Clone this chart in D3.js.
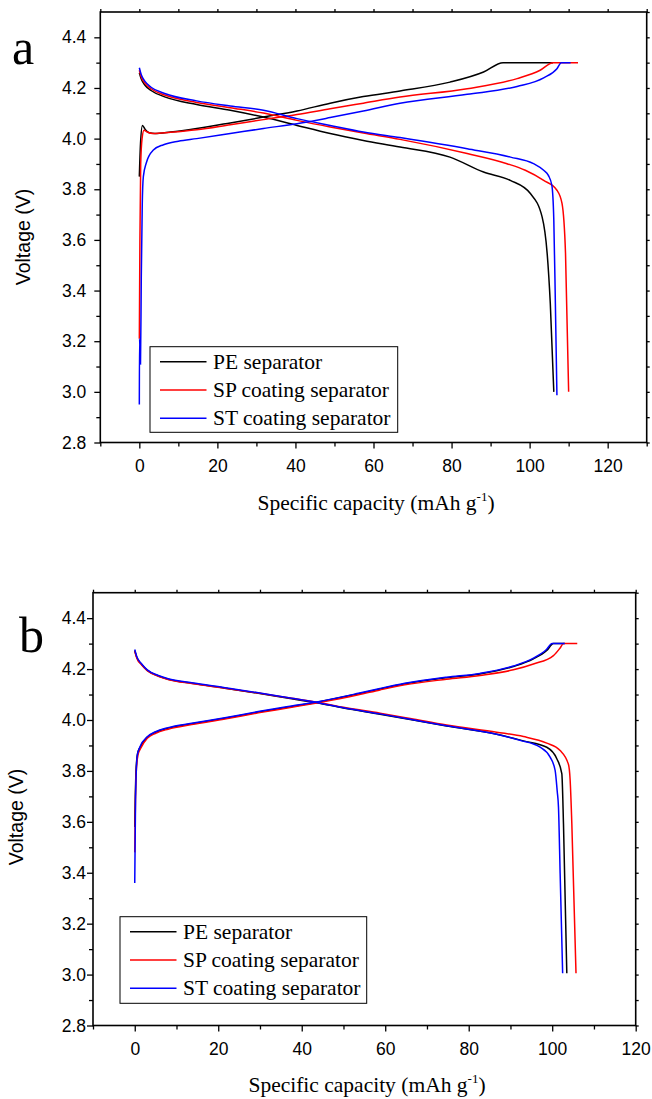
<!DOCTYPE html>
<html>
<head>
<meta charset="utf-8">
<script src="https://cdn.jsdelivr.net/npm/d3@7"></script>
<style>
  body { margin: 0; background: #fff; }
  svg { display: block; }
  .tick text { font-family: "Liberation Sans", Arial, sans-serif; font-size: 17.5px; fill: #000; }
  .tick line { stroke: #000; stroke-width: 1.3; }
</style>
</head>
<body>
<div id="chart"></div>
<script>
// series names (legend)
const seriesNames = ["PE separator", "SP coating separator", "ST coating separator"];
const seriesColors = ["#000000", "#ff0000", "#0000ff"];

// tick labels
const yMajor = [2.8, 3.0, 3.2, 3.4, 3.6, 3.8, 4.0, 4.2, 4.4];
const yMinor = [2.9, 3.1, 3.3, 3.5, 3.7, 3.9, 4.1, 4.3, 4.5];
const xMajorA = [0, 20, 40, 60, 80, 100, 120];
const xMinorA = [-10, 10, 30, 50, 70, 90, 110, 130];
const xMajorB = [0, 20, 40, 60, 80, 100, 120];
const xMinorB = [-10, 10, 30, 50, 70, 90, 110];

// ---- panel a: [capacity mAh/g, voltage V] ----
const aPeCharge = [[0, 3.85], [0.3, 3.98], [0.8, 4.052], [1.5, 4.036], [2.5, 4.023], [4, 4.02], [8, 4.026],
  [14.7, 4.04], [23.3, 4.062], [31.8, 4.085], [40.4, 4.109], [48.9, 4.14], [57.4, 4.166], [66.8, 4.188],
  [79.6, 4.223], [88.2, 4.263], [93.2, 4.3], [106, 4.3]];
const aSpCharge = [[0, 3.21], [0.15, 3.6], [0.35, 3.9], [0.7, 4.0], [1.2, 4.033], [2, 4.026], [3.5, 4.02],
  [8, 4.025], [14.7, 4.035], [23.3, 4.055], [31.8, 4.075], [40.4, 4.095], [48.9, 4.118], [57.4, 4.14],
  [66.8, 4.164], [84, 4.197], [96.8, 4.237], [102.7, 4.27], [106, 4.3], [112.4, 4.3]];
const aStCharge = [[0, 2.95], [0.05, 3.21], [0.3, 3.11], [0.5, 3.45], [0.75, 3.74], [1.03, 3.85], [1.8, 3.905],
  [3.6, 3.955], [6.2, 3.976], [10, 3.99], [14.7, 4.0], [23.3, 4.02], [31.8, 4.04], [40.4, 4.059],
  [48.9, 4.083], [57.4, 4.109], [66.8, 4.14], [84, 4.175], [96.8, 4.206], [103.6, 4.24], [107, 4.276],
  [108.1, 4.3], [110.5, 4.3]];
const aPeDischarge = [[0, 4.26], [0.5, 4.235], [1.5, 4.21], [3, 4.19], [6.5, 4.165], [14.7, 4.135],
  [23.3, 4.112], [31.8, 4.085], [40.4, 4.052], [48.9, 4.02], [57.4, 3.993], [66.8, 3.967], [79.6, 3.927],
  [88.2, 3.868], [95.05, 3.835], [100.2, 3.783], [103.2, 3.691], [104.5, 3.546], [105.3, 3.349], [106.2, 3.0]];
const aSpDischarge = [[0, 4.27], [0.5, 4.243], [1.5, 4.217], [3, 4.197], [6.5, 4.172], [14.7, 4.143],
  [23.3, 4.122], [31.8, 4.101], [40.4, 4.072], [48.9, 4.046], [57.4, 4.022], [66.8, 3.997], [84, 3.941],
  [94.2, 3.901], [98.9, 3.875], [103.6, 3.835], [107, 3.796], [108.3, 3.744], [109.2, 3.546], [110, 3.0]];
const aStDischarge = [[0, 4.28], [0.5, 4.252], [1.5, 4.225], [3, 4.203], [6.5, 4.178], [14.7, 4.149],
  [23.3, 4.129], [31.8, 4.112], [40.4, 4.079], [48.9, 4.052], [57.4, 4.026], [66.8, 4.004], [84, 3.96],
  [95.1, 3.927], [101, 3.901], [103.6, 3.875], [104.8, 3.855], [105.7, 3.815], [106.2, 3.678],
  [106.6, 3.349], [107, 2.987]];

// ---- panel b ----
const bPeCharge = [[0, 3.58], [0.3, 3.8], [0.7, 3.87], [1.3, 3.893], [3, 3.932], [5, 3.952], [8, 3.968],
  [13.65, 3.985], [21.6, 4.007], [29.6, 4.031], [37.6, 4.053], [43.6, 4.07], [53.6, 4.103], [58.75, 4.122],
  [64.7, 4.142], [74.7, 4.166], [82.7, 4.181], [90.7, 4.21], [95.5, 4.24], [98.7, 4.273], [100.3, 4.3], [103, 4.3]];
const bSpCharge = [[0, 3.48], [0.3, 3.78], [0.8, 3.865], [1.4, 3.888], [3, 3.928], [5, 3.948], [8, 3.964],
  [13.65, 3.982], [21.6, 4.004], [29.6, 4.028], [37.6, 4.05], [43.6, 4.067], [53.6, 4.099], [58.75, 4.118],
  [64.7, 4.138], [74.7, 4.16], [82.7, 4.175], [90.7, 4.197], [95.5, 4.22], [100.3, 4.253], [101.9, 4.283],
  [102.7, 4.3], [106, 4.3]];
const bStCharge = [[0, 3.36], [0.2, 3.7], [0.6, 3.86], [1.2, 3.893], [3, 3.934], [5, 3.954], [8, 3.97],
  [13.65, 3.987], [21.6, 4.009], [29.6, 4.033], [37.6, 4.055], [43.6, 4.071], [53.6, 4.105], [58.75, 4.124],
  [64.7, 4.144], [74.7, 4.168], [82.7, 4.183], [90.7, 4.212], [95.5, 4.243], [98.5, 4.275], [100, 4.3], [103, 4.3]];
const bPeDischarge = [[0, 4.273], [0.5, 4.245], [1.67, 4.218], [3, 4.195], [5.65, 4.173], [8, 4.16],
  [13.65, 4.144], [21.6, 4.125], [29.6, 4.105], [37.6, 4.083], [43.6, 4.068], [50, 4.047], [58.75, 4.023],
  [66, 4.002], [74.7, 3.976], [86.7, 3.944], [93.1, 3.918], [98.7, 3.893], [101.1, 3.848], [102.3, 3.789],
  [102.7, 3.593], [103.5, 3.005]];
const bSpDischarge = [[0, 4.27], [0.5, 4.243], [1.67, 4.216], [3, 4.194], [5.65, 4.172], [8, 4.159],
  [13.65, 4.143], [21.6, 4.125], [29.6, 4.106], [37.6, 4.085], [43.6, 4.07], [50, 4.05], [58.75, 4.027],
  [66, 4.006], [74.7, 3.98], [86.7, 3.952], [93.1, 3.935], [98.7, 3.909], [101.9, 3.88], [103.9, 3.825],
  [104.3, 3.763], [104.7, 3.593], [105.7, 3.005]];
const bStDischarge = [[0, 4.277], [0.5, 4.248], [1.67, 4.22], [3, 4.197], [5.65, 4.175], [8, 4.162],
  [13.65, 4.146], [21.6, 4.127], [29.6, 4.107], [37.6, 4.085], [43.6, 4.069], [50, 4.048], [58.75, 4.024],
  [66, 4.003], [74.7, 3.977], [86.7, 3.944], [92.3, 3.92], [97.1, 3.893], [99.5, 3.854], [100.7, 3.802],
  [101.2, 3.72], [101.5, 3.658], [101.9, 3.397], [102.5, 3.005]];

const W = 652, H = 1099;
const svg = d3.select("#chart").append("svg").attr("width", W).attr("height", H);

function drawPanel(p) {
  const x = d3.scaleLinear().domain(p.xDomain).range([p.left, p.right]);
  const y = d3.scaleLinear().domain([2.8, 4.5]).range([p.bottom, p.top]);
  const g = svg.append("g");

  // minor ticks first, then major
  g.append("g").attr("transform", `translate(${p.left},0)`)
    .call(d3.axisLeft(y).tickValues(yMinor.filter(v => v < 4.5)).tickSize(4).tickSizeOuter(0).tickFormat(""));
  g.append("g").attr("transform", `translate(${p.left},0)`)
    .call(d3.axisLeft(y).tickValues(yMajor).tickSize(6).tickSizeOuter(0).tickPadding(p.yPad).tickFormat(d3.format(".1f")));
  g.append("g").attr("transform", `translate(0,${p.bottom})`)
    .call(d3.axisBottom(x).tickValues(p.xMinor).tickSize(4).tickSizeOuter(0).tickFormat(""));
  g.append("g").attr("transform", `translate(0,${p.bottom})`)
    .call(d3.axisBottom(x).tickValues(p.xMajor).tickSize(6).tickSizeOuter(0).tickPadding(11.4).tickFormat(d3.format("d")));
  // top + right small ticks
  g.append("g").attr("transform", `translate(0,${p.top})`)
    .call(d3.axisTop(x).tickValues(p.xMajor.concat(p.xMinor)).tickSize(3).tickSizeOuter(0).tickFormat(""));
  g.append("g").attr("transform", `translate(${p.right},0)`)
    .call(d3.axisRight(y).tickValues(yMajor.concat(yMinor)).tickSize(3).tickSizeOuter(0).tickFormat(""));
  g.selectAll(".domain").remove();

  // frame
  g.append("rect")
    .attr("x", p.left).attr("y", p.top)
    .attr("width", p.right - p.left).attr("height", p.bottom - p.top)
    .attr("fill", "none").attr("stroke", "#000").attr("stroke-width", 1.6);

  const line = d3.line().x(d => x(d[0])).y(d => y(d[1])).curve(d3.curveMonotoneX);
  p.series.forEach((pair, i) => {
    pair.forEach(arr => {
      g.append("path").datum(arr)
        .attr("d", line)
        .attr("fill", "none")
        .attr("stroke", seriesColors[i])
        .attr("stroke-width", 1.5);
    });
  });

  // legend
  const lg = g.append("g");
  lg.append("rect")
    .attr("x", p.legend.x).attr("y", p.legend.y)
    .attr("width", p.legend.w).attr("height", p.legend.h)
    .attr("fill", "#fff").attr("stroke", "#000").attr("stroke-width", 1);
  seriesNames.forEach((name, i) => {
    const ly = p.legend.y + 15 + i * 28.3;
    lg.append("line")
      .attr("x1", p.legend.x + 10).attr("x2", p.legend.x + 56.5)
      .attr("y1", ly).attr("y2", ly)
      .attr("stroke", seriesColors[i]).attr("stroke-width", 1.5);
    lg.append("text")
      .attr("x", p.legend.x + 63).attr("y", ly + 7)
      .attr("font-family", "'Liberation Serif', 'Times New Roman', serif")
      .attr("font-size", 21.5)
      .text(name);
  });

  // axis titles
  const xt = g.append("text")
    .attr("x", p.xTitleX).attr("y", p.xTitleY)
    .attr("text-anchor", "middle")
    .attr("font-family", "'Liberation Serif', 'Times New Roman', serif")
    .attr("font-size", 21.5);
  xt.append("tspan").text("Specific capacity (mAh g");
  xt.append("tspan").attr("font-size", 13).attr("dy", -9).text("-1");
  xt.append("tspan").attr("dy", 9).text(")");

  g.append("text")
    .attr("transform", `translate(${p.yTitleX},${p.yTitleY}) rotate(-90)`)
    .attr("text-anchor", "middle")
    .attr("font-family", "'Liberation Sans', Arial, sans-serif")
    .attr("font-size", 19.5)
    .text("Voltage (V)");

  g.append("text")
    .attr("x", p.tag.x).attr("y", p.tag.y)
    .attr("font-family", "'Liberation Serif', 'Times New Roman', serif")
    .attr("font-size", 50)
    .text(p.tag.t);
}

drawPanel({
  left: 100.3, right: 646.7, top: 12, bottom: 442.5,
  xDomain: [-10, 130], xMajor: xMajorA, xMinor: xMinorA, yPad: 8,
  series: [[aPeCharge, aPeDischarge], [aSpCharge, aSpDischarge], [aStCharge, aStDischarge]],
  legend: { x: 150, y: 346.7, w: 247.7, h: 85.6 },
  xTitleX: 376, xTitleY: 510, yTitleX: 30, yTitleY: 237,
  tag: { x: 12, y: 64, t: "a" }
});

drawPanel({
  left: 93, right: 635.7, top: 592.7, bottom: 1025.5,
  xDomain: [-10, 120], xMajor: xMajorB, xMinor: xMinorB, yPad: 1,
  series: [[bPeCharge, bPeDischarge], [bSpCharge, bSpDischarge], [bStCharge, bStDischarge]],
  legend: { x: 120, y: 916.7, w: 246.7, h: 86.6 },
  xTitleX: 367, xTitleY: 1092, yTitleX: 23, yTitleY: 817,
  tag: { x: 19, y: 652, t: "b" }
});
</script>
</body>
</html>
